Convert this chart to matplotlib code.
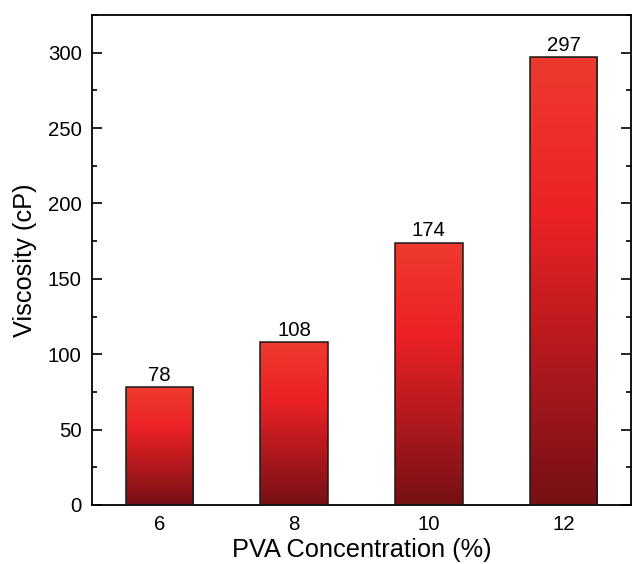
import numpy as np
import matplotlib.pyplot as plt
from matplotlib.colors import LinearSegmentedColormap
from matplotlib.ticker import MultipleLocator

plt.rcParams['font.family'] = ['Liberation Sans', 'DejaVu Sans']

concentrations = ['6', '8', '10', '12']
viscosity = [78, 108, 174, 297]

# dark red at the bottom, bright red around 2/3 of the height, a bit lighter on top
grad = LinearSegmentedColormap.from_list(
    'bar_grad', [(0.0, '#761014'), (0.65, '#ec2226'), (1.0, '#ee3a2e')])

fig = plt.figure(figsize=(6.32, 5.64), dpi=100)
ax = fig.add_axes([92 / 632, 1 - 505 / 564, 539 / 632, 490 / 564])

x = np.arange(len(concentrations))
bars = ax.bar(x, viscosity, width=0.5, edgecolor='#1a1a1a', linewidth=1.1,
              facecolor='none', zorder=3)

# fill each bar with its own vertical gradient
g = np.linspace(0, 1, 256).reshape(-1, 1)
for b in bars:
    x0, y0 = b.get_x(), b.get_y()
    im = ax.imshow(g, cmap=grad, origin='lower', aspect='auto',
                   extent=[x0, x0 + b.get_width(), y0, y0 + b.get_height()],
                   zorder=2)
    im.set_clip_path(b)

for xi, v in zip(x, viscosity):
    ax.text(xi, v + 1.5, str(v), ha='center', va='bottom', fontsize=14.7)

ax.set_xlim(-0.5, 3.5)
ax.set_ylim(0, 325)
ax.set_xticks(x)
ax.set_xticklabels(concentrations)
ax.yaxis.set_major_locator(MultipleLocator(50))
ax.yaxis.set_minor_locator(MultipleLocator(25))

ax.tick_params(axis='y', which='both', direction='in', left=True, right=True,
               labelsize=14.7, width=1.2, pad=7.5)
ax.tick_params(axis='y', which='major', length=7)
ax.tick_params(axis='y', which='minor', length=3.5)
ax.tick_params(axis='x', which='both', length=0, labelsize=14.7, pad=7)

for s in ax.spines.values():
    s.set_linewidth(1.3)

ax.set_xlabel('PVA Concentration (%)', fontsize=18.3, labelpad=3)
ax.set_ylabel('Viscosity (cP)', fontsize=18.3, labelpad=7.5)

fig.savefig('out.png', dpi=100)
